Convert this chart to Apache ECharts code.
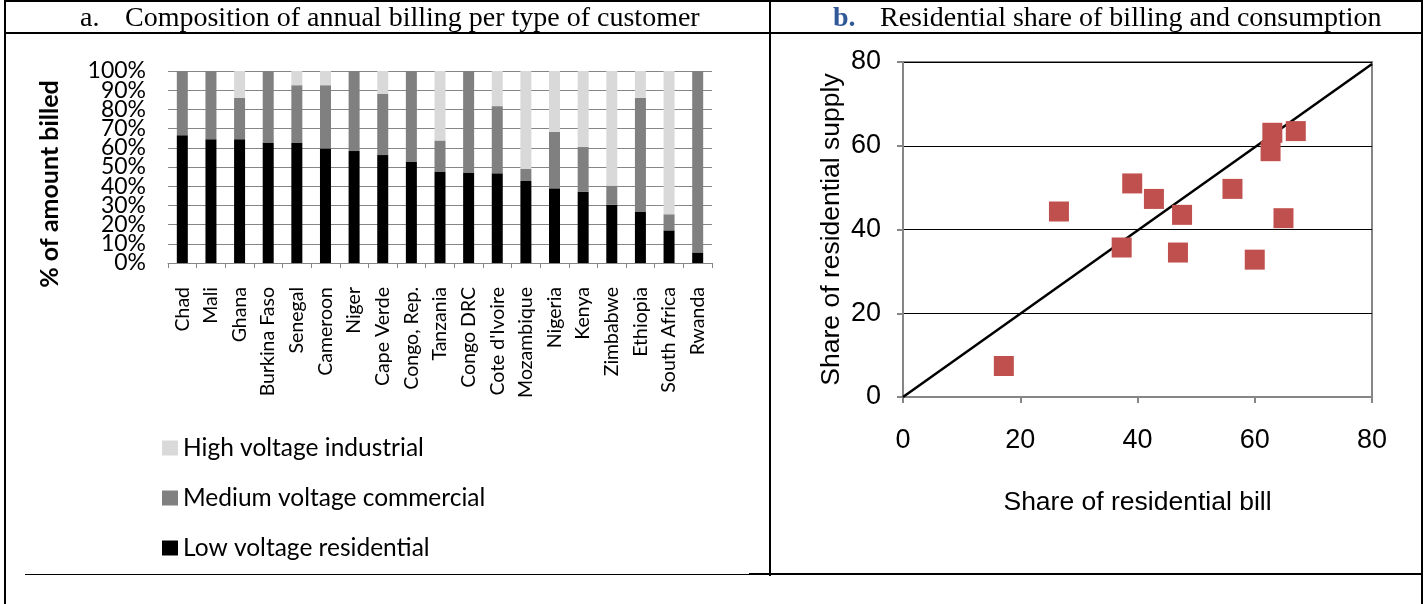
<!DOCTYPE html>
<html>
<head>
<meta charset="utf-8">
<script src="https://cdn.jsdelivr.net/npm/echarts@6/dist/echarts.min.js"></script>
<style>
    html, body { margin: 0; padding: 0; background: #fff; }
    #wrap { position: relative; width: 1427px; height: 604px; overflow: hidden; }
    #chart { position: absolute; left: 0; top: 0; width: 1427px; height: 604px; }
    .ln { position: absolute; background: #000; }
    .hd { position: absolute; top: 1px; font-family: "Liberation Serif", serif; font-size: 28px; line-height: 32px; white-space: pre; color: #000; }
</style>
</head>
<body>
<div id="wrap">
    <div id="chart"></div>
    <!-- table lines -->
    <div class="ln" style="left:4px;top:0;width:2px;height:604px"></div>
    <div class="ln" style="left:1421px;top:0;width:2px;height:604px"></div>
    <div class="ln" style="left:4px;top:0;width:1419px;height:2px"></div>
    <div class="ln" style="left:4px;top:32px;width:1419px;height:2px"></div>
    <div class="ln" style="left:769px;top:0;width:2px;height:576px"></div>
    <div class="ln" style="left:25px;top:574px;width:724px;height:1px"></div>
    <div class="ln" style="left:749px;top:573px;width:674px;height:2px"></div>
    <div class="hd" style="left:80px">a.</div>
    <div class="hd" style="left:125px">Composition of annual billing per type of customer</div>
    <div class="hd" style="left:833px"><b style="color:#2f5897">b.</b></div>
    <div class="hd" style="left:880px">Residential share of billing and consumption</div>
</div>
<script>
    // panel a: composition of billing (% of amount billed)
    const countries = ['Chad', 'Mali', 'Ghana', 'Burkina Faso', 'Senegal', 'Cameroon', 'Niger', 'Cape Verde',
        'Congo, Rep.', 'Tanzania', 'Congo DRC', "Cote d'Ivoire", 'Mozambique', 'Nigeria', 'Kenya',
        'Zimbabwe', 'Ethiopia', 'South Africa', 'Rwanda'];
    const lowResidential = [66.6, 64.5, 64.5, 62.8, 62.5, 59.7, 58.3, 56.2, 52.8, 47.6, 47.1, 46.7, 42.7, 38.9, 37.2, 30.4, 26.6, 17.0, 5.5];
    const mediumCommercial = [33.4, 35.5, 21.5, 37.2, 30.1, 32.9, 41.7, 32.0, 47.2, 16.2, 52.9, 35.0, 6.4, 29.4, 23.2, 9.9, 59.4, 8.4, 94.5];
    const highIndustrial = [0, 0, 14.0, 0, 7.4, 7.4, 0, 11.8, 0, 36.2, 0, 18.3, 50.9, 31.7, 39.6, 59.7, 14.0, 74.6, 0];

    // panel b: residential share of bill vs supply
    const residentialPoints = [
        [17.2, 7.4], [26.6, 44.3], [37.3, 35.7], [39.1, 51.0], [42.8, 47.3], [46.9, 34.5], [47.6, 43.5],
        [56.2, 49.7], [60.0, 32.8], [62.7, 58.7], [63.0, 63.1], [64.9, 42.7], [67.0, 63.5]
    ];
    const diagonal = [[0, 0], [80, 79.5]];

    const chart = echarts.init(document.getElementById('chart'));
    const lato = 'Lato, "Open Sans", sans-serif';
    const arial = '"Liberation Sans", Arial, sans-serif';
    const pctLabel = {formatter: '{value}%', margin: 22, color: '#000', fontFamily: lato, fontSize: 23, lineHeight: 17};

    const option = {
        animation: false,
        grid: [
            {left: 168, top: 71, width: 544, height: 192},
            {left: 903, top: 62, width: 469, height: 335, show: true, borderColor: '#868686', borderWidth: 2, backgroundColor: 'transparent'},
            // same box as grid 0, only carries the 0% / 100% labels
            {left: 168, top: 71, width: 544, height: 192}
        ],
        legend: {
            data: ['High voltage industrial', 'Medium voltage commercial', 'Low voltage residential'],
            orient: 'vertical',
            left: 162,
            top: 435,
            padding: 0,
            itemWidth: 16,
            itemHeight: 15,
            itemGap: 24,
            icon: 'rect',
            selectedMode: false,
            textStyle: {fontFamily: lato, fontSize: 24.5, color: '#000', lineHeight: 26}
        },
        graphic: [{
            type: 'text',
            x: 37, y: 184,
            rotation: Math.PI / 2,
            style: {
                text: '% of amount billed',
                font: 'bold 25px ' + lato,
                fill: '#000',
                align: 'center',
                verticalAlign: 'top'
            }
        }],
        xAxis: [
            {
                type: 'category',
                gridIndex: 0,
                data: countries,
                axisLine: {lineStyle: {color: '#868686'}},
                axisTick: {show: true, length: 5, lineStyle: {color: '#868686'}},
                axisLabel: {rotate: 90, interval: 0, margin: 24, color: '#000', fontFamily: lato, fontSize: 19.5}
            },
            {
                type: 'value',
                gridIndex: 1,
                min: 0, max: 80, interval: 20,
                name: 'Share of residential bill',
                nameLocation: 'middle',
                nameGap: 92,
                nameTextStyle: {fontFamily: arial, fontSize: 26.5, color: '#000'},
                axisLine: {lineStyle: {color: '#868686', width: 2}},
                axisTick: {show: true, length: 6, lineStyle: {color: '#868686', width: 2}},
                axisLabel: {margin: 30, color: '#000', fontFamily: arial, fontSize: 27},
                splitLine: {show: false}
            },
            {type: 'value', gridIndex: 2, min: 0, max: 1, show: false}
        ],
        yAxis: [
            {
                type: 'value',
                gridIndex: 0,
                min: 0, max: 100, interval: 10,
                axisLine: {show: false},
                axisTick: {show: false},
                axisLabel: Object.assign({showMinLabel: false, showMaxLabel: false}, pctLabel),
                splitLine: {lineStyle: {color: '#868686', width: 1}}
            },
            {
                type: 'value',
                gridIndex: 1,
                min: 0, max: 80, interval: 20,
                name: 'Share of residential supply',
                nameLocation: 'middle',
                nameGap: 58,
                nameTextStyle: {fontFamily: arial, fontSize: 26.5, color: '#000'},
                axisLine: {show: true, lineStyle: {color: '#868686', width: 2}},
                axisTick: {show: true, length: 6, lineStyle: {color: '#868686', width: 2}},
                axisLabel: {margin: 22, color: '#000', fontFamily: arial, fontSize: 27},
                splitLine: {lineStyle: {color: '#000', width: 1}}
            },
            {
                type: 'value',
                gridIndex: 2,
                min: 0, max: 100, interval: 100,
                axisLine: {show: false},
                axisTick: {show: false},
                splitLine: {show: false},
                axisLabel: pctLabel
            }
        ],
        series: [
            {
                name: 'Low voltage residential', type: 'bar', stack: 'bill', barWidth: 11,
                xAxisIndex: 0, yAxisIndex: 0, data: lowResidential, itemStyle: {color: '#000'}
            },
            {
                name: 'Medium voltage commercial', type: 'bar', stack: 'bill', barWidth: 11,
                xAxisIndex: 0, yAxisIndex: 0, data: mediumCommercial, itemStyle: {color: '#808080'}
            },
            {
                name: 'High voltage industrial', type: 'bar', stack: 'bill', barWidth: 11,
                xAxisIndex: 0, yAxisIndex: 0, data: highIndustrial, itemStyle: {color: '#d9d9d9'}
            },
            {
                name: 'diagonal', type: 'line', xAxisIndex: 1, yAxisIndex: 1,
                data: diagonal, symbol: 'none', lineStyle: {color: '#000', width: 2.5}, z: 3
            },
            {
                name: 'points', type: 'scatter', xAxisIndex: 1, yAxisIndex: 1,
                data: residentialPoints, symbol: 'rect', symbolSize: 20,
                itemStyle: {color: '#c0504d', opacity: 1}, z: 4
            }
        ]
    };
    chart.setOption(option);
</script>
</body>
</html>
